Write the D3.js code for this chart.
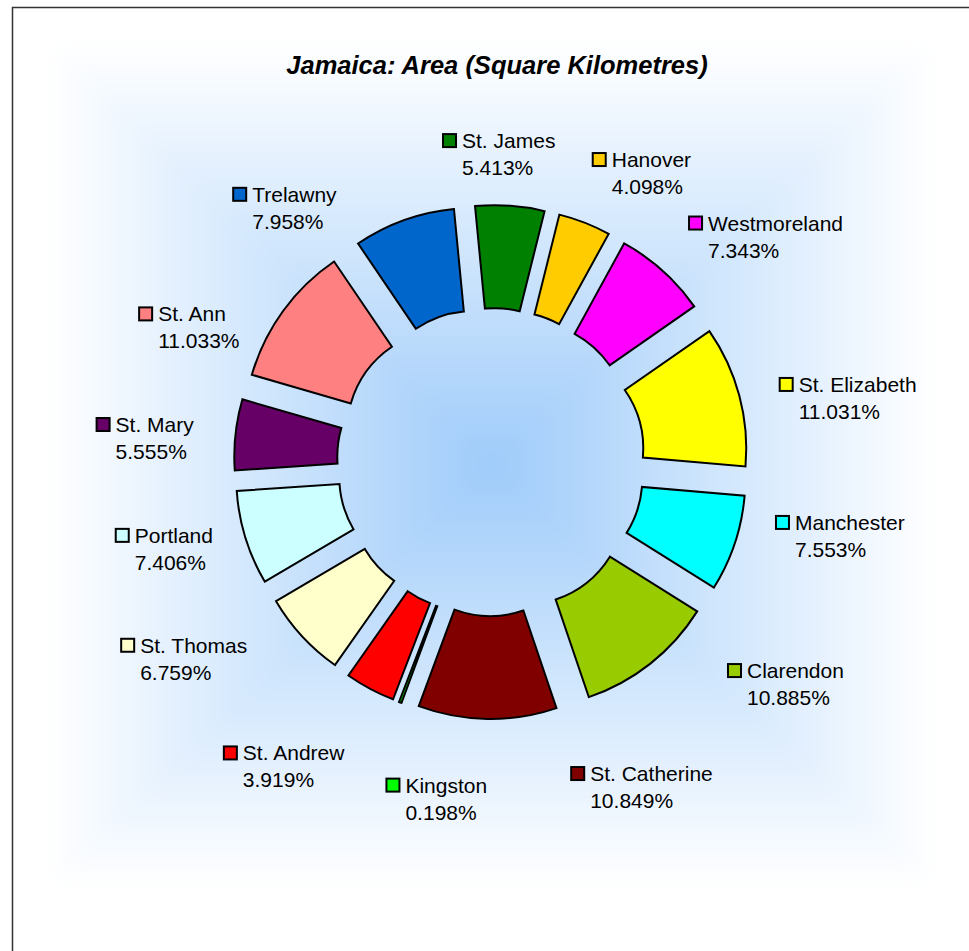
<!DOCTYPE html>
<html>
<head>
<meta charset="utf-8">
<script src="https://cdn.jsdelivr.net/npm/d3@7/dist/d3.min.js"></script>
<style>
body { margin: 0; background: #fff; }
text { font-family: "Liberation Sans", Arial, sans-serif; fill: #000; }
</style>
</head>
<body>
<div class="chart"></div>
<script>
const parishes = ["St. James", "Hanover", "Westmoreland", "St. Elizabeth", "Manchester", "Clarendon",
  "St. Catherine", "Kingston", "St. Andrew", "St. Thomas", "Portland", "St. Mary", "St. Ann", "Trelawny"];
const shares = [5.413, 4.098, 7.343, 11.031, 7.553, 10.885, 10.849, 0.198, 3.919, 6.759, 7.406, 5.555, 11.033, 7.958];
const colours = ["#008000", "#ffcc00", "#ff00ff", "#ffff00", "#00ffff", "#99cc00", "#800000",
  "#00ff00", "#ff0000", "#ffffcc", "#ccffff", "#660066", "#ff8080", "#0066cc"];

// where each label sits: turn away from the slice middle (deg) and distance from centre
const labelTurn = [-2.8, 6.3, 8.9, 5.1, -6.2, -14.4, -25.5, -11.5, 6.0, 9.8, 2.0, -2.5, -12.3, -19.5];
const labelDist = [306, 324, 354, 362, 357, 370, 360, 343, 370, 366, 339, 347, 330, 326];

const w = 969,
h = 951,
cx = 491,
cy = 462,
outerR = 206,
innerR = 103,
explode = 51,
startDeg = -5.5,
rad = Math.PI / 180;

const svg = d3.select(".chart")
.append("svg")
.attr("width", w)
.attr("height", h);

const defs = svg.append("defs");
defs.append("filter")
.attr("id", "soft")
.attr("x", "-10%").attr("y", "-10%").attr("width", "120%").attr("height", "120%")
.append("feGaussianBlur")
.attr("stdDeviation", 10);

// plot area: rectangular "from centre" gradient
const area = {x0: 45, y0: 40, x1: 939, y1: 890, gx: 492, gy: 465};
const shade = d3.interpolateRgb("#ffffff", "#9ecbfa");
svg.append("g")
.attr("filter", "url(#soft)")
.selectAll("rect")
.data(d3.range(0, 1, 1 / 60))
.enter()
.append("rect")
.attr("x", t => area.x0 + t * (area.gx - area.x0))
.attr("y", t => area.y0 + t * (area.gy - area.y0))
.attr("width", t => (area.x1 - area.x0) * (1 - t))
.attr("height", t => (area.y1 - area.y0) * (1 - t))
.attr("fill", t => shade(t));

// chart frame
svg.append("rect")
.attr("x", 12.5)
.attr("y", 7.5)
.attr("width", 1100)
.attr("height", 1100)
.attr("fill", "none")
.attr("stroke", "#333")
.attr("stroke-width", 1.5);

svg.append("text")
.attr("x", 497)
.attr("y", 74)
.attr("text-anchor", "middle")
.style("font-size", "25.5px")
.style("font-weight", "bold")
.style("font-style", "italic")
.text("Jamaica: Area (Square Kilometres)");

const pie = d3.pie()
.sort(null)
.value(d => d)
.startAngle(startDeg * rad)
.endAngle(startDeg * rad + 2 * Math.PI);
const arcs = pie(shares);

const arc = d3.arc()
.innerRadius(innerR)
.outerRadius(outerR);

const mid = d => (d.startAngle + d.endAngle) / 2;

svg.append("g")
.attr("transform", "translate(" + cx + "," + cy + ")")
.selectAll("path")
.data(arcs)
.enter()
.append("path")
.attr("d", arc)
.attr("transform", d => "translate(" + (explode * Math.sin(mid(d))) + "," + (-explode * Math.cos(mid(d))) + ")")
.attr("fill", (d, i) => colours[i])
.attr("stroke", "#000")
.attr("stroke-width", 2)
.attr("stroke-linejoin", "miter");

const pct = d3.format(".3f");
const labels = svg.append("g")
.selectAll("g")
.data(arcs)
.enter()
.append("g");

labels.append("rect")
.attr("x", 1)
.attr("y", -14)
.attr("width", 13)
.attr("height", 13)
.attr("fill", (d, i) => colours[i])
.attr("stroke", "#000")
.attr("stroke-width", 2);

labels.append("text")
.attr("class", "name")
.attr("x", 20)
.attr("y", 0)
.style("font-size", "21px")
.text((d, i) => parishes[i]);

labels.append("text")
.attr("class", "pct")
.attr("x", 20)
.attr("y", 27)
.style("font-size", "21px")
.text(d => pct(d.value) + "%");

labels.attr("transform", function(d, i) {
  const g = d3.select(this);
  const bw = 20 + Math.max(g.select(".name").node().getComputedTextLength(),
    g.select(".pct").node().getComputedTextLength());
  const a = mid(d) + labelTurn[i] * rad;
  const lx = cx + labelDist[i] * Math.sin(a);
  const ly = cy - labelDist[i] * Math.cos(a);
  return "translate(" + (lx - bw / 2) + "," + (ly - 8) + ")";
});
</script>
</body>
</html>
